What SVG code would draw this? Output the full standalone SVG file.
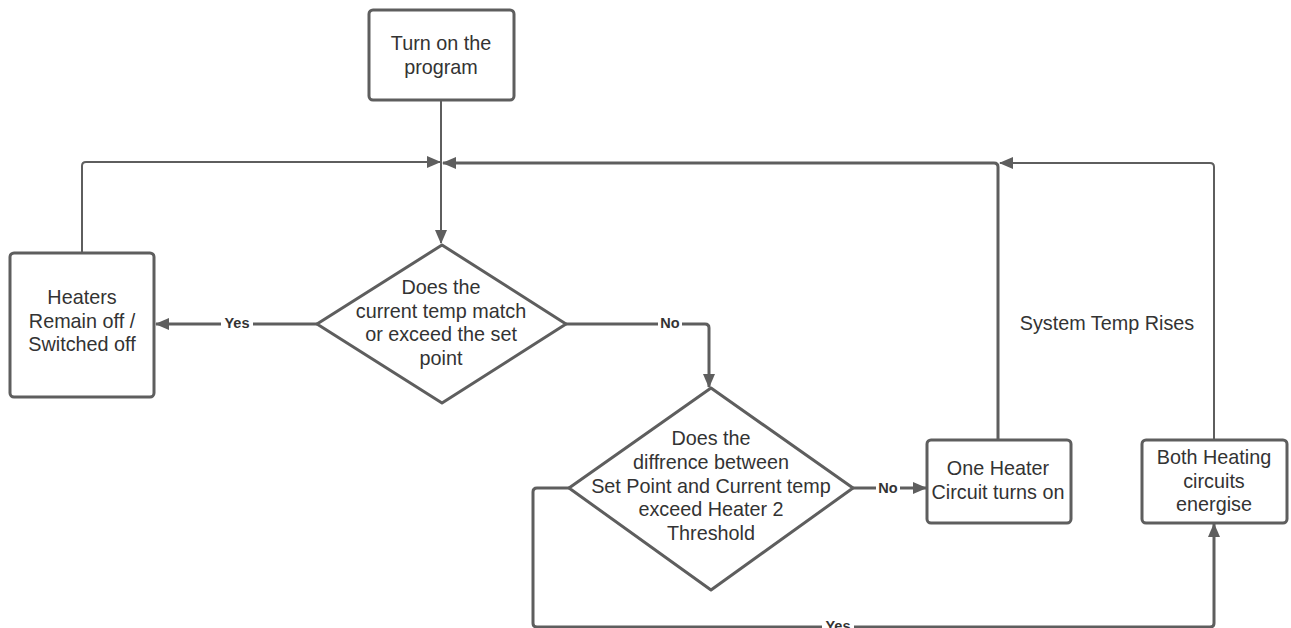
<svg xmlns="http://www.w3.org/2000/svg" width="1291" height="628" viewBox="0 0 1291 628">
<defs>
<style>
.node{fill:#fff;stroke:#5e5e5e;stroke-width:3}
.t{font-family:"Liberation Sans",Arial,sans-serif;font-size:19.8px;fill:#333;text-anchor:middle;dominant-baseline:central}
.e{fill:none;stroke:#5e5e5e;stroke-width:2}
.ek{fill:none;stroke:#5e5e5e;stroke-width:3}
.lbl{font-family:"Liberation Sans",Arial,sans-serif;font-size:14.5px;font-weight:bold;fill:#333;text-anchor:middle;dominant-baseline:central}
</style>
<marker id="ah" markerUnits="userSpaceOnUse" markerWidth="14" markerHeight="12" refX="13" refY="6" orient="auto">
<path d="M0,0 L14,6 L0,12 Z" fill="#5e5e5e"/>
</marker>
</defs>
<rect width="1291" height="628" fill="#fff"/>
<g id="connectors">
<path class="e" d="M441,100 V243" marker-end="url(#ah)"/>
<path class="e" d="M82,253 V166 Q82,162 86,162 H440" marker-end="url(#ah)"/>
<path class="ek" d="M998,440 V167 Q998,163 994,163 H443" marker-end="url(#ah)"/>
<path class="e" d="M1214,440 V167 Q1214,163 1210,163 H1000" marker-end="url(#ah)"/>
<path class="ek" d="M317,324 H156" marker-end="url(#ah)"/>
<path class="ek" d="M566,324 H705 Q709,324 709,328 V387" marker-end="url(#ah)"/>
<path class="ek" d="M853,488 H926" marker-end="url(#ah)"/>
<path class="ek" d="M569,488 H537 Q533,488 533,492 V623 Q533,627 537,627 H1210 Q1214,627 1214,623 V524" marker-end="url(#ah)"/>
<rect x="221" y="315" width="32" height="17" fill="#fff"/>
<text class="lbl" x="237" y="323">Yes</text>
<rect x="658" y="315" width="24" height="17" fill="#fff"/>
<text class="lbl" x="670" y="323">No</text>
<rect x="876" y="479" width="24" height="17" fill="#fff"/>
<text class="lbl" x="888" y="488">No</text>
<rect x="822" y="618" width="32" height="10" fill="#fff"/>
<text class="lbl" x="838" y="626">Yes</text>
<text class="t" x="1107" y="323">System Temp Rises</text>
</g>
<g id="start">
<rect class="node" x="369" y="10" width="145" height="90" rx="4"/>
<text class="t" x="441" y="43">Turn on the</text>
<text class="t" x="441" y="67">program</text>
</g>
<g id="heaters-off">
<rect class="node" x="10" y="253" width="144" height="144" rx="4"/>
<text class="t" x="82" y="297">Heaters</text>
<text class="t" x="82" y="321">Remain off /</text>
<text class="t" x="82" y="344">Switched off</text>
</g>
<g id="decision1">
<path class="node" d="M442,245 L566,324 L442,403 L317,324 Z" stroke-linejoin="round"/>
<text class="t" x="441" y="287">Does the</text>
<text class="t" x="441" y="311">current temp match</text>
<text class="t" x="441" y="334">or exceed the set</text>
<text class="t" x="441" y="358">point</text>
</g>
<g id="decision2">
<path class="node" d="M711,388 L853,488 L711,590 L569,488 Z" stroke-linejoin="round"/>
<text class="t" x="711" y="438">Does the</text>
<text class="t" x="711" y="462">diffrence between</text>
<text class="t" x="711" y="486">Set Point and Current temp</text>
<text class="t" x="711" y="509">exceed Heater 2</text>
<text class="t" x="711" y="533">Threshold</text>
</g>
<g id="one-heater">
<rect class="node" x="927" y="440" width="144" height="83" rx="4"/>
<text class="t" x="998" y="468">One Heater</text>
<text class="t" x="998" y="492">Circuit turns on</text>
</g>
<g id="both-heaters">
<rect class="node" x="1142" y="440" width="145" height="83" rx="4"/>
<text class="t" x="1214" y="457">Both Heating</text>
<text class="t" x="1214" y="481">circuits</text>
<text class="t" x="1214" y="504">energise</text>
</g>
</svg>
